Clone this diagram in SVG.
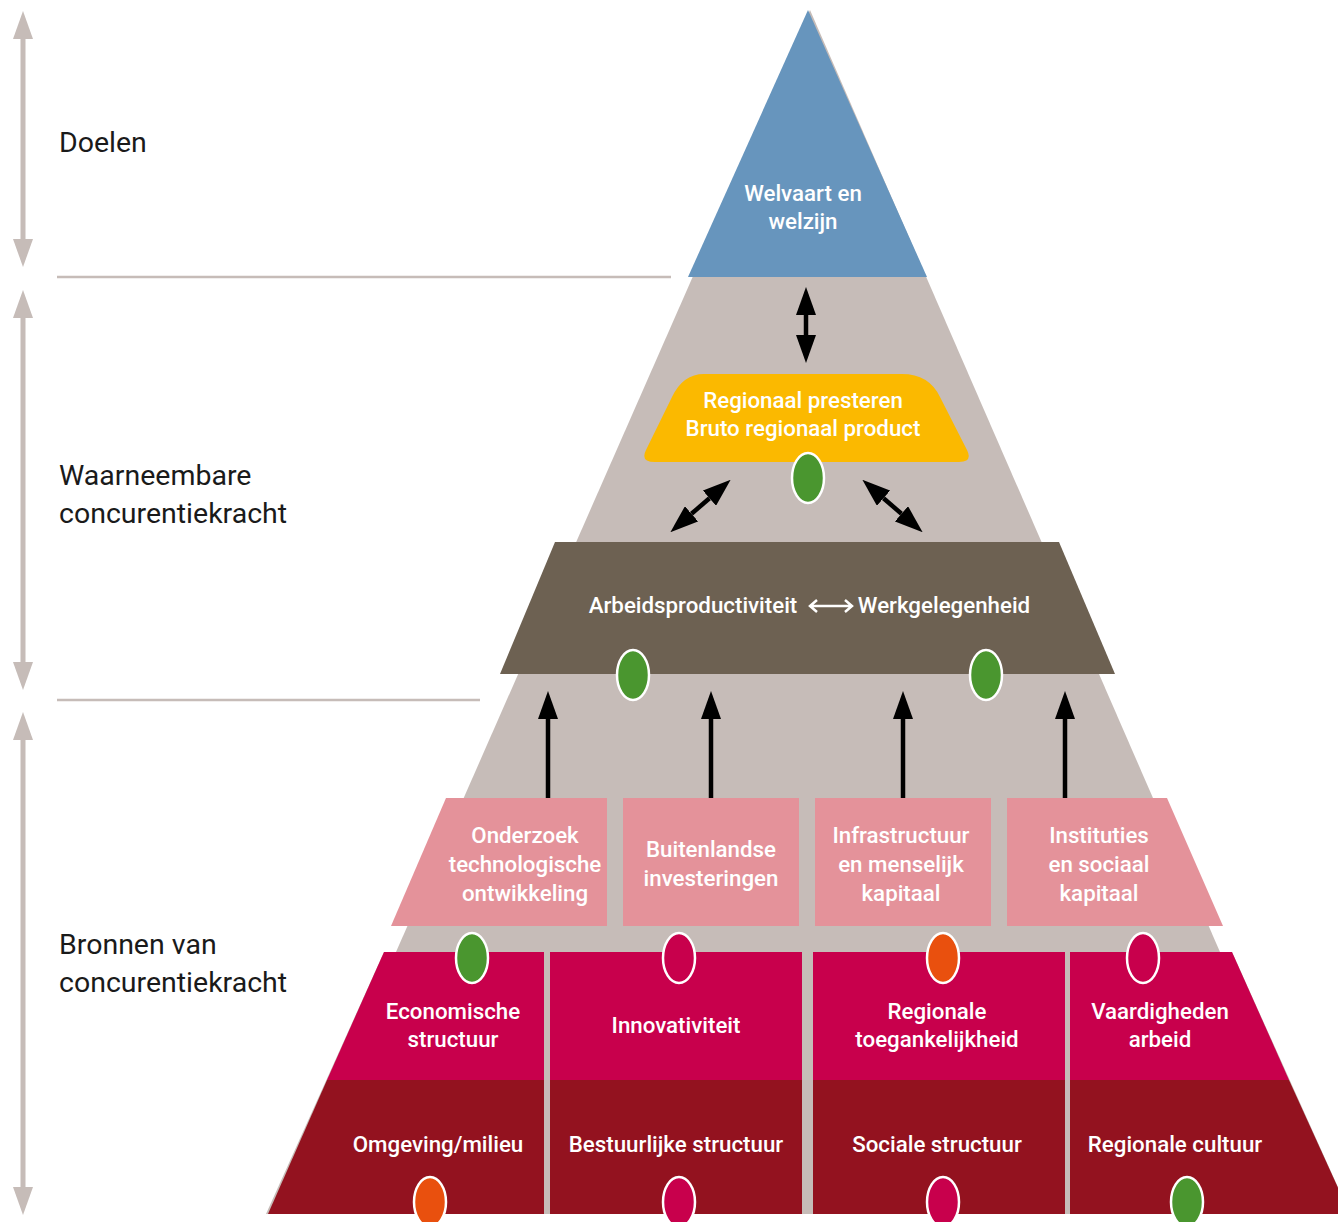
<svg xmlns="http://www.w3.org/2000/svg" width="1338" height="1222" viewBox="0 0 1338 1222">
<style>
.lbl{font-family:Roboto,"Liberation Sans",sans-serif;font-weight:500;font-size:22.3px;fill:#ffffff;text-anchor:middle}
.side{font-family:Roboto,"Liberation Sans",sans-serif;font-size:28.5px;fill:#1a1a1a}
.dot{stroke:#ffffff;stroke-width:2.5}
.g{fill:#4a962f}.o{fill:#e9500e}.m{fill:#c8004c}
.blk{stroke:#000;stroke-width:4.5;fill:none}
.gry{stroke:#c6bcb8;stroke-width:5;fill:none}
.sep{stroke:#c6bcb8;stroke-width:2.5}
</style>
<defs>
<marker id="ah" viewBox="0 0 28 20" refX="0" refY="10" markerWidth="28" markerHeight="20" markerUnits="userSpaceOnUse" orient="auto-start-reverse"><path d="M0,0 L28,10 L0,20 z" fill="#000"/></marker>
<marker id="ahg" viewBox="0 0 28 20" refX="0" refY="10" markerWidth="28" markerHeight="20" markerUnits="userSpaceOnUse" orient="auto-start-reverse"><path d="M0,0 L28,10 L0,20 z" fill="#c6bcb8"/></marker>
</defs>

<!-- background pyramid -->
<polygon id="backdrop" points="810,10 1220,952 396,952" fill="#c6bcb8"/>
<polygon id="base-backdrop" points="384,952 1232,952 1350,1214 266,1214" fill="#c6bcb8"/>

<!-- side scale -->
<g id="side-scale">
<line class="gry" x1="23" y1="39" x2="23" y2="239" marker-start="url(#ahg)" marker-end="url(#ahg)"/>
<line class="gry" x1="23" y1="318" x2="23" y2="662" marker-start="url(#ahg)" marker-end="url(#ahg)"/>
<line class="gry" x1="23" y1="740" x2="23" y2="1187" marker-start="url(#ahg)" marker-end="url(#ahg)"/>
<line class="sep" x1="57" y1="277" x2="671" y2="277"/>
<line class="sep" x1="57" y1="700" x2="480" y2="700"/>
<text class="side" x="59" y="152">Doelen</text>
<text class="side" x="59" y="485">Waarneembare</text>
<text class="side" x="59" y="523">concurentiekracht</text>
<text class="side" x="59" y="954">Bronnen van</text>
<text class="side" x="59" y="992">concurentiekracht</text>
</g>

<g id="welvaart">
<polygon points="808,10 927,277 688,277" fill="#6795bd"/>
<text class="lbl" x="803" y="201">Welvaart en</text>
<text class="lbl" x="803" y="229">welzijn</text>
</g>

<g id="regionaal-presteren">
<path d="M704,374 L902,374 Q929,374 940,397 L967,450 Q973,462 959,462 L655,462 Q640,462 646,450 L672,397 Q683,374 704,374 Z" fill="#fbb900"/>
<text class="lbl" x="803" y="408">Regionaal presteren</text>
<text class="lbl" x="803" y="436">Bruto regionaal product</text>
<ellipse class="dot g" cx="808" cy="478" rx="16" ry="25"/>
</g>

<g id="arbeid-werk">
<polygon points="555,542 1059,542 1115,674 500,674" fill="#6d6152"/>
<text class="lbl" x="693" y="613">Arbeidsproductiviteit</text>
<text class="lbl" x="944" y="613">Werkgelegenheid</text>
<ellipse class="dot g" cx="633" cy="675" rx="16" ry="25"/>
<ellipse class="dot g" cx="986" cy="675" rx="16" ry="25"/>
</g>

<g id="onderzoek">
<polygon points="446,798 607,798 607,926 391,926" fill="#e4929a"/>
<text class="lbl" x="525" y="843">Onderzoek</text>
<text class="lbl" x="525" y="872">technologische</text>
<text class="lbl" x="525" y="901">ontwikkeling</text>
</g>
<g id="buitenlandse">
<rect x="623" y="798" width="176" height="128" fill="#e4929a"/>
<text class="lbl" x="711" y="857">Buitenlandse</text>
<text class="lbl" x="711" y="886">investeringen</text>
</g>
<g id="infrastructuur">
<rect x="815" y="798" width="176" height="128" fill="#e4929a"/>
<text class="lbl" x="901" y="843">Infrastructuur</text>
<text class="lbl" x="901" y="872">en menselijk</text>
<text class="lbl" x="901" y="901">kapitaal</text>
</g>
<g id="instituties">
<polygon points="1007,798 1167,798 1223,926 1007,926" fill="#e4929a"/>
<text class="lbl" x="1099" y="843">Instituties</text>
<text class="lbl" x="1099" y="872">en sociaal</text>
<text class="lbl" x="1099" y="901">kapitaal</text>
</g>

<!-- bottom two rows -->
<g id="economische-structuur">
<polygon points="384,952 544,952 544,1080 327,1080" fill="#c8004c"/>
<text class="lbl" x="453" y="1019">Economische</text>
<text class="lbl" x="453" y="1047">structuur</text>
<ellipse class="dot g" cx="472" cy="958" rx="16" ry="25"/>
</g>
<g id="innovativiteit">
<rect x="550" y="952" width="252" height="128" fill="#c8004c"/>
<text class="lbl" x="676" y="1033">Innovativiteit</text>
<ellipse class="dot m" cx="679" cy="958" rx="16" ry="25"/>
</g>
<g id="regionale-toegankelijkheid">
<rect x="813" y="952" width="252" height="128" fill="#c8004c"/>
<text class="lbl" x="937" y="1019">Regionale</text>
<text class="lbl" x="937" y="1047">toegankelijkheid</text>
<ellipse class="dot o" cx="943" cy="958" rx="16" ry="25"/>
</g>
<g id="vaardigheden-arbeid">
<polygon points="1070,952 1232,952 1289,1080 1070,1080" fill="#c8004c"/>
<text class="lbl" x="1160" y="1019">Vaardigheden</text>
<text class="lbl" x="1160" y="1047">arbeid</text>
<ellipse class="dot m" cx="1143" cy="958" rx="16" ry="25"/>
</g>

<g id="omgeving-milieu">
<polygon points="327,1080 544,1080 544,1214 268,1214" fill="#93121f"/>
<text class="lbl" x="438" y="1152">Omgeving/milieu</text>
<ellipse class="dot o" cx="430" cy="1202" rx="16" ry="25"/>
</g>
<g id="bestuurlijke-structuur">
<rect x="550" y="1080" width="252" height="134" fill="#93121f"/>
<text class="lbl" x="676" y="1152">Bestuurlijke structuur</text>
<ellipse class="dot m" cx="679" cy="1202" rx="16" ry="25"/>
</g>
<g id="sociale-structuur">
<rect x="813" y="1080" width="252" height="134" fill="#93121f"/>
<text class="lbl" x="937" y="1152">Sociale structuur</text>
<ellipse class="dot m" cx="943" cy="1202" rx="16" ry="25"/>
</g>
<g id="regionale-cultuur">
<polygon points="1070,1080 1289,1080 1350,1214 1070,1214" fill="#93121f"/>
<text class="lbl" x="1175" y="1152">Regionale cultuur</text>
<ellipse class="dot g" cx="1187" cy="1202" rx="16" ry="25"/>
</g>

<g id="connectors">
<line class="blk" x1="806" y1="315" x2="806" y2="335" marker-start="url(#ah)" marker-end="url(#ah)"/>
<line class="blk" x1="691.5" y1="513.8" x2="709.5" y2="498.2" marker-start="url(#ah)" marker-end="url(#ah)"/>
<line class="blk" x1="883.5" y1="498.2" x2="901.5" y2="513.8" marker-start="url(#ah)" marker-end="url(#ah)"/>
<line class="blk" x1="548" y1="798" x2="548" y2="719" marker-end="url(#ah)"/>
<line class="blk" x1="711" y1="798" x2="711" y2="719" marker-end="url(#ah)"/>
<line class="blk" x1="903" y1="798" x2="903" y2="719" marker-end="url(#ah)"/>
<line class="blk" x1="1065" y1="798" x2="1065" y2="719" marker-end="url(#ah)"/>
<path d="M810,606 H852 M817,600 L810,606 L817,612 M845,600 L852,606 L845,612" stroke="#fff" stroke-width="2.5" fill="none" stroke-linejoin="miter"/>
</g>
</svg>
